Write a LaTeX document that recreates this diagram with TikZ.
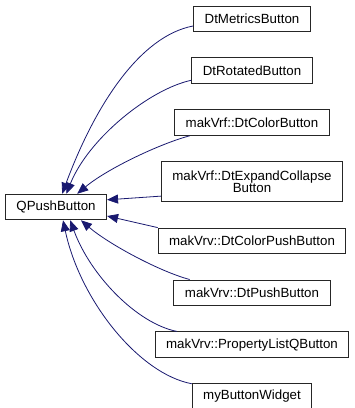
\documentclass[tikz,border=0pt]{standalone}
\usepackage{fontspec}
\setmainfont{Liberation Sans}
\usepackage{tikz}
\usetikzlibrary{arrows.meta,positioning}
\definecolor{edgeblue}{RGB}{25,25,112}
\tikzset{
    classbox/.style={
        rectangle,
        draw=black!85,
        line width=1pt,
        minimum height=25.5pt,
        inner xsep=11pt,
        inner ysep=2pt,
        align=center,
        font=\fontsize{13.3}{12.7}\selectfont
    },
    inheritance/.style={
        -{Triangle[length=11pt,width=9pt]},
        draw=edgeblue,
        line width=0.8pt
    }
}
\begin{document}
\begin{tikzpicture}[x=1pt,y=-1pt,node distance=25.4pt]
\useasboundingbox (0,0) rectangle (355,408);

% QPushButton
\node[classbox] (qpb) at (56,207) {QPushButton};

% derived classes
\node[classbox] (metrics) at (252,18.75) {DtMetricsButton};
\node[classbox, below=of metrics] (rotated) {DtRotatedButton};
\node[classbox, below=of rotated] (colorbtn) {makVrf::DtColorButton};
\node[classbox, below=of colorbtn, minimum height=40pt] (expand) {makVrf::DtExpandCollapse\\Button};
\node[classbox, below=of expand] (colorpush) {makVrv::DtColorPushButton};
\node[classbox, below=of colorpush] (dtpush) {makVrv::DtPushButton};
\node[classbox, below=of dtpush] (proplist) {makVrv::PropertyListQButton};
\node[classbox, below=of proplist] (mybutton) {myButtonWidget};

\draw[inheritance] (metrics.187) .. controls +(-53,10) and +(33,-89) .. (qpb.65);
\draw[inheritance] (rotated.189) .. controls +(-42,9) and +(22,-55) .. (qpb.52);
\draw[inheritance] (colorbtn.192) .. controls +(-30,8) and +(30,-25) .. (qpb.32);
\draw[inheritance] (expand.189) -- (qpb.8);
\draw[inheritance] (colorpush.172) -- (qpb.350);
\draw[inheritance] (dtpush.168) .. controls +(-30,-8) and +(28,24) .. (qpb.332);
\draw[inheritance] (proplist.170) .. controls +(-40,-8) and +(20,55) .. (qpb.317);
\draw[inheritance] (mybutton.168) .. controls +(-53,-10) and +(17,80) .. (qpb.298);
\end{tikzpicture}
\end{document}
